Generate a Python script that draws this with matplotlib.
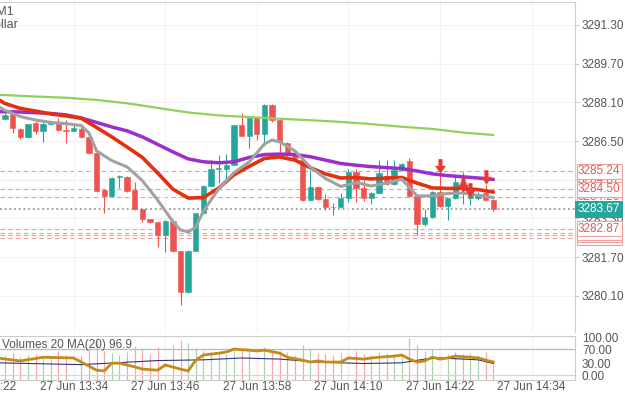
import numpy as np
import matplotlib.pyplot as plt
from matplotlib.path import Path
from matplotlib.transforms import blended_transform_factory

plt.rcParams['font.family'] = ['Liberation Sans', 'DejaVu Sans']

# one candle per minute, 13:25 .. 14:29
opens = [3287.42, 3287.62, 3286.98, 3286.65, 3287.26, 3286.90, 3287.20, 3287.23, 3286.95, 3286.93,
         3286.98, 3286.68, 3285.99, 3284.47, 3284.22, 3285.00, 3285.03, 3284.47, 3283.67, 3283.26,
         3283.14, 3282.61, 3283.20, 3281.94, 3280.27, 3281.96, 3283.51, 3284.64, 3285.34, 3285.34,
         3285.51, 3287.16, 3286.71, 3287.44, 3286.79, 3287.99, 3287.37, 3286.41, 3285.92, 3285.71,
         3284.06, 3284.58, 3284.09, 3283.77, 3283.76, 3284.13, 3285.23, 3284.54, 3284.13, 3284.36,
         3285.06, 3284.72, 3285.30, 3285.69, 3284.22, 3283.07, 3283.34, 3284.40, 3283.82, 3284.13,
         3284.82, 3284.13, 3284.13, 3284.34, 3284.06]
highs = [3287.65, 3287.70, 3287.05, 3287.22, 3287.34, 3287.30, 3287.32, 3287.44, 3287.37, 3287.17,
         3287.10, 3286.72, 3286.02, 3284.50, 3285.00, 3285.10, 3285.06, 3284.80, 3283.70, 3283.28,
         3283.17, 3283.23, 3283.23, 3281.96, 3281.98, 3283.53, 3284.66, 3285.71, 3285.92, 3285.97,
         3287.18, 3287.67, 3287.55, 3287.47, 3288.02, 3288.02, 3287.40, 3286.45, 3286.00, 3285.78,
         3285.30, 3284.62, 3284.30, 3283.95, 3284.34, 3285.36, 3285.36, 3284.90, 3284.40, 3285.71,
         3285.71, 3285.71, 3285.60, 3285.80, 3284.25, 3283.67, 3284.43, 3285.23, 3284.16, 3285.10,
         3285.23, 3284.50, 3284.40, 3284.69, 3284.10]
lows = [3287.38, 3286.84, 3286.60, 3286.62, 3286.79, 3286.45, 3287.15, 3286.92, 3286.43, 3286.90,
        3286.62, 3285.95, 3284.40, 3283.51, 3284.18, 3284.54, 3284.40, 3283.66, 3283.14, 3283.10,
        3282.13, 3281.90, 3281.90, 3279.72, 3280.20, 3281.94, 3283.49, 3284.62, 3284.76, 3284.76,
        3285.49, 3286.69, 3286.21, 3286.55, 3286.30, 3287.30, 3286.06, 3285.72, 3285.70, 3284.00,
        3284.02, 3284.08, 3283.65, 3283.44, 3283.72, 3283.99, 3283.99, 3284.00, 3283.89, 3284.33,
        3284.70, 3284.70, 3285.28, 3284.20, 3282.61, 3282.97, 3283.30, 3283.78, 3283.23, 3284.10,
        3283.90, 3283.85, 3284.05, 3284.02, 3283.60]
closes = [3287.58, 3287.04, 3286.65, 3287.19, 3286.93, 3287.19, 3287.28, 3286.96, 3286.93, 3287.05,
          3286.68, 3285.99, 3284.44, 3284.22, 3284.96, 3285.05, 3284.43, 3283.70, 3283.29, 3283.14,
          3282.61, 3283.20, 3281.94, 3280.27, 3281.96, 3283.51, 3284.64, 3285.36, 3285.36, 3285.51,
          3287.16, 3286.71, 3287.44, 3286.79, 3287.99, 3287.37, 3286.47, 3285.92, 3285.80, 3284.06,
          3284.58, 3284.11, 3283.78, 3283.75, 3284.13, 3285.23, 3284.54, 3284.13, 3284.36, 3285.16,
          3284.72, 3285.30, 3285.55, 3284.22, 3283.07, 3283.34, 3284.40, 3283.82, 3284.13, 3284.82,
          3284.55, 3284.25, 3284.31, 3284.06, 3283.67]
volumes = [95, 100, 88, 92, 97, 85, 90, 110, 95, 88, 93, 120, 145, 110, 100, 92, 105, 128, 115, 98,
           125, 118, 132, 150, 140, 118, 110, 105, 100, 96, 125, 112, 120, 108, 122, 118, 110, 104, 92, 130,
           115, 100, 98, 94, 102, 118, 110, 98, 92, 104, 100, 96, 90, 158, 130, 110, 118, 104, 96, 106,
           98, 100, 92, 104, 60]

# moving averages
green_idx = [-1, 0, 4, 8, 12, 16, 20, 24, 28, 32, 36, 40, 44, 48, 52, 56, 60, 64]
ma_green = [3288.41, 3288.40, 3288.34, 3288.29, 3288.20, 3288.06, 3287.87, 3287.68, 3287.56,
            3287.49, 3287.42, 3287.36, 3287.29, 3287.20, 3287.09, 3287.00, 3286.85, 3286.75]
ma_idx = [-1, 0, 2, 4, 6, 8, 10, 12, 14, 16, 18, 20, 22, 24, 26, 28, 30, 32, 34, 36, 38, 40,
          42, 44, 46, 48, 50, 52, 54, 56, 58, 60, 62, 64]
ma_purple = [3287.72, 3287.71, 3287.70, 3287.67, 3287.64, 3287.58, 3287.45, 3287.27, 3287.08,
             3286.92, 3286.67, 3286.36, 3286.05, 3285.76, 3285.64, 3285.60, 3285.64, 3285.82,
             3285.94, 3285.96, 3285.94, 3285.85, 3285.71, 3285.57, 3285.50, 3285.44, 3285.40,
             3285.36, 3285.26, 3285.14, 3285.07, 3285.02, 3284.97, 3284.91]
ma_red = [3288.24, 3288.05, 3287.85, 3287.74, 3287.62, 3287.54, 3287.44, 3287.06, 3286.67,
          3286.25, 3285.82, 3285.18, 3284.51, 3284.14, 3284.16, 3284.55, 3285.10, 3285.45,
          3285.78, 3285.84, 3285.71, 3285.40, 3285.14, 3284.97, 3284.99, 3284.93, 3284.97,
          3284.99, 3284.76, 3284.56, 3284.54, 3284.54, 3284.49, 3284.39]
gray_idx = [-1, 0, 2, 4, 6, 8, 10, 11, 12, 14, 16, 18, 20, 22, 23, 24, 25, 26, 28, 30, 32, 34,
            35, 36, 38, 40, 42, 44, 46, 48, 50, 52, 54, 56, 58, 60, 62, 64]
ma_gray = [3287.95, 3287.77, 3287.51, 3287.37, 3287.27, 3287.22, 3287.14, 3286.83, 3286.09,
           3285.69, 3285.43, 3284.86, 3284.06, 3283.17, 3282.82, 3282.74, 3282.94, 3283.60,
           3284.52, 3285.19, 3285.63, 3286.38, 3286.54, 3286.46, 3286.09, 3285.43, 3284.95,
           3284.62, 3284.78, 3284.64, 3284.76, 3284.92, 3284.23, 3284.23, 3284.33, 3284.35,
           3284.25, 3284.16]

# lower panel lines
osc_idx = [-1, 2, 5, 9, 10, 12, 13, 14, 15, 17, 18, 20, 21, 23, 24, 25, 26, 28, 29, 30, 32, 33, 34,
           36, 37, 39, 40, 41, 42, 44, 45, 47, 48, 49, 51, 52, 53, 54, 55, 56, 57, 58, 59, 61, 62, 64]
osc_gold = [46, 38, 48, 46, 35, 13, 11, 32, 32, 22, 16, 13, 27, 16, 11, 40, 54, 59, 62, 70, 67, 65,
            67, 59, 48, 40, 35, 38, 35, 35, 46, 43, 46, 48, 51, 54, 43, 35, 38, 48, 43, 46, 51, 48,
            46, 35]
vma_idx = [-1, 10, 20, 26, 31, 36, 41, 47, 52, 55, 57, 62, 64]
vma_navy = [33, 28, 39, 41, 46, 43, 35, 31, 33, 43, 46, 41, 31]

levels_up = [3284.87, 3284.20, 3285.24, 3284.50]
levels_down = [3282.49, 3282.61, 3282.71, 3282.87]
last_price = 3283.67
sig_idx = [57, 60, 61, 63]
sig_price = [3285.47, 3284.68, 3284.47, 3285.01]

price_ticks = [3280.10, 3281.70, 3283.30, 3284.90, 3286.50, 3288.10, 3289.70, 3291.30]
time_ticks = [9, 21, 33, 45, 57, 69]
time_labels = ['27 Jun 13:34', '27 Jun 13:46', '27 Jun 13:58', '27 Jun 14:10', '27 Jun 14:22', '27 Jun 14:34']
osc_ticks = [0, 30, 70, 100]

TEAL = '#26a69a'
RED = '#ef5350'
TXT = '#555555'

fig = plt.figure(figsize=(6.25, 3.95), dpi=100)
ax = fig.add_axes([0, 63 / 395, 575 / 625, 330 / 395])
ax2 = fig.add_axes([0, 15 / 395, 575 / 625, 44 / 395], sharex=ax)

idx = np.arange(len(opens))
o = np.array(opens)
c = np.array(closes)
col = np.where(c >= o, TEAL, RED)
ax.vlines(idx, lows, highs, color=col, lw=0.8, zorder=2)
ax.bar(idx, np.maximum(np.abs(c - o), 0.03), bottom=np.minimum(o, c), width=0.7,
       color=col, edgecolor=col, lw=0.4, zorder=3)

ax.plot(green_idx, ma_green, color='#8fd15a', lw=1.6, zorder=4, solid_capstyle='round')
ax.plot(ma_idx, ma_purple, color='#9b2fcc', lw=2.5, zorder=4, solid_capstyle='round',
        solid_joinstyle='round')
ax.plot(ma_idx, ma_red, color='#e3300f', lw=2.6, zorder=5, solid_capstyle='round',
        solid_joinstyle='round')
ax.plot(gray_idx, ma_gray, color='#a2a2a2', lw=2.2, zorder=5, solid_capstyle='round',
        solid_joinstyle='round')

for lv in levels_up + levels_down:
    ax.axhline(lv, color='#f19a9a', lw=0.8, ls=(0, (4, 3)), zorder=1)
ax.axhline(last_price, color='#9a9a9a', lw=1.3, ls=(0, (1, 1.6)), zorder=1)

arrow = Path([(-0.28, 1), (0.28, 1), (0.28, 0.1), (0.75, 0.1), (0, -1), (-0.75, 0.1),
              (-0.28, 0.1), (-0.28, 1)], closed=True)
ax.scatter(sig_idx, sig_price, marker=arrow, s=110, color='#e53935', zorder=6, lw=0)

ax.set_xlim(-0.655, 74.7)
ax.set_ylim(3278.60, 3292.25)
ax.yaxis.tick_right()
ax.set_yticks(price_ticks)
ax.set_yticklabels(['%.2f' % t for t in price_ticks])
ax.tick_params(axis='y', labelsize=8.5, labelcolor=TXT, length=3, color='#cccccc', pad=2)
ax.tick_params(axis='x', length=0, labelbottom=False)
ax.set_xticks(time_ticks)
ax.grid(True, color='#f2f2f2', lw=0.8)
for s in ['left', 'bottom']:
    ax.spines[s].set_visible(False)
for s in ['top', 'right']:
    ax.spines[s].set_color('#d0d0d0')

# price tags on the right axis
tr = blended_transform_factory(ax.transAxes, ax.transData)
for lv in levels_up + levels_down:
    ax.text(1.0 + 3 / 575, lv, '%.2f' % lv, transform=tr, ha='left', va='center', fontsize=8.5,
            color='#e05a5a', clip_on=False, zorder=7,
            bbox=dict(boxstyle='square,pad=0.12', fc='white', ec='#f1a0a0', lw=0.8))
ax.text(1.0 + 3 / 575, last_price, '%.2f' % last_price, transform=tr, ha='left', va='center',
        fontsize=8.5, color='white', clip_on=False, zorder=8,
        bbox=dict(boxstyle='square,pad=0.22', fc=TEAL, ec=TEAL, lw=0))

# lower panel
axv = ax2.twinx()
axv.vlines(idx, 0, volumes, color=np.where(c >= o, '#a9d3a9', '#f3a9a9'), lw=0.9)
axv.set_ylim(0, 165)
axv.set_yticks([])
for s in axv.spines.values():
    s.set_visible(False)
ax2.set_zorder(axv.get_zorder() + 1)
ax2.patch.set_visible(False)
ax2.axhline(70, color='#bdbdbd', lw=1.0)
ax2.axhline(0, color='#d5d5d5', lw=0.8)
ax2.plot(osc_idx, osc_gold, color='#c58a19', lw=2.0, zorder=4, solid_joinstyle='round')
ax2.plot(vma_idx, vma_navy, color='#2f3480', lw=0.8, zorder=3)
ax2.set_ylim(-13.5, 105.4)
ax2.yaxis.tick_right()
ax2.set_yticks(osc_ticks)
ax2.set_yticklabels(['%.2f' % t for t in osc_ticks])
ax2.tick_params(axis='y', labelsize=8.5, labelcolor=TXT, length=0, pad=5)
ax2.set_xticks(time_ticks)
ax2.set_xticklabels(time_labels)
ax2.tick_params(axis='x', labelsize=8.5, labelcolor=TXT, length=0, pad=1)
ax2.grid(True, axis='x', color='#f2f2f2', lw=0.8)
ax2.spines['left'].set_visible(False)
for s in ['top', 'right', 'bottom']:
    ax2.spines[s].set_color('#cccccc')
trx = blended_transform_factory(ax2.transData, ax2.transAxes)
ax2.text(-3, -1 / 44, '27 Jun 13:22', transform=trx, ha='center', va='top', fontsize=8.5,
         color=TXT, clip_on=False)
ax2.text(2 / 575, 35 / 44, 'Volumes 20 MA(20) 96.9', transform=ax2.transAxes, ha='left',
         va='center', fontsize=8.5, color=TXT)

fig.text(14 / 625, 1 - 12 / 395, 'XAUUSD, M1', ha='right', va='center', fontsize=9, color=TXT)
fig.text(18 / 625, 1 - 25 / 395, 'Gold vs US Dollar', ha='right', va='center', fontsize=9, color=TXT)

fig.savefig('out.png', dpi=100)
